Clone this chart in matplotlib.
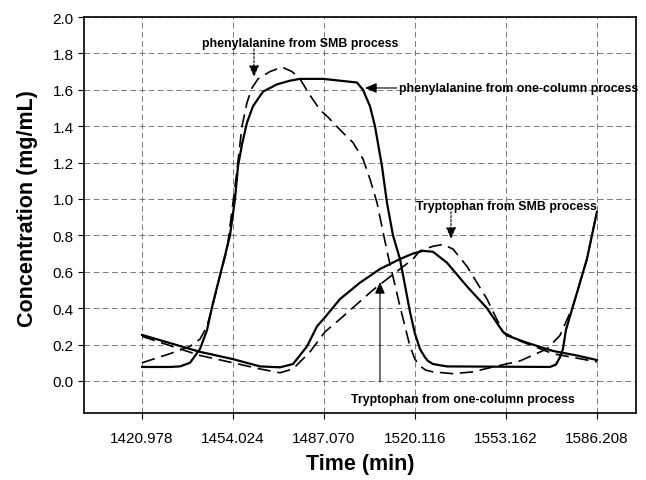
import matplotlib
matplotlib.use("Agg")
import matplotlib.pyplot as plt

plt.rcParams['font.family'] = ['Liberation Sans', 'DejaVu Sans']

# ---- data ----
x_ticks = [1420.978, 1454.024, 1487.070, 1520.116, 1553.162, 1586.208]
x_tick_labels = ["1420.978", "1454.024", "1487.070", "1520.116", "1553.162", "1586.208"]
y_ticks = [0.0, 0.2, 0.4, 0.6, 0.8, 1.0, 1.2, 1.4, 1.6, 1.8, 2.0]

phe_one_x = [1420.98, 1431.15, 1434.78, 1438.41, 1442.04, 1444.58, 1446.76, 1449.30, 1451.12,
             1452.93, 1454.75, 1455.84, 1457.29, 1459.11, 1461.29, 1464.92, 1470.00, 1474.72,
             1478.35, 1486.71, 1499.05, 1501.23, 1503.77, 1505.59, 1508.13, 1509.94, 1512.13,
             1514.67, 1518.30, 1520.11, 1521.93, 1523.75, 1524.84, 1526.65, 1531.74,
             1569.14, 1571.32, 1572.77, 1573.86, 1574.95, 1577.49, 1582.58, 1586.21]
phe_one_y = [0.077, 0.077, 0.08, 0.10, 0.176, 0.28, 0.43, 0.58, 0.69,
             0.80, 1.00, 1.18, 1.30, 1.42, 1.51, 1.59, 1.63, 1.65,
             1.66, 1.66, 1.64, 1.60, 1.51, 1.40, 1.18, 0.98, 0.80,
             0.67, 0.38, 0.26, 0.176, 0.13, 0.11, 0.093, 0.08,
             0.077, 0.09, 0.13, 0.176, 0.28, 0.41, 0.67, 0.93]

phe_smb_x = [1420.98, 1431.15, 1438.41, 1442.04, 1444.58, 1446.76, 1449.30, 1451.84, 1454.02,
             1455.48, 1457.29, 1459.11, 1460.92, 1463.10, 1467.46, 1471.82, 1475.45, 1478.35,
             1481.99, 1485.62, 1488.52, 1492.88, 1497.60, 1501.23, 1503.77, 1506.32, 1508.49,
             1510.31, 1514.67, 1518.30, 1520.11, 1521.93, 1524.0, 1526.65, 1533.92, 1541.18,
             1548.44, 1558.25, 1568.05, 1572.77, 1577.49, 1582.58, 1586.21]
phe_smb_y = [0.10, 0.15, 0.19, 0.23, 0.30, 0.42, 0.58, 0.72, 0.98,
             1.16, 1.40, 1.53, 1.61, 1.66, 1.70, 1.725, 1.70, 1.66,
             1.57, 1.49, 1.45, 1.38, 1.31, 1.22, 1.11, 0.98, 0.82,
             0.69, 0.41, 0.19, 0.12, 0.082, 0.06, 0.05, 0.04, 0.05,
             0.077, 0.11, 0.176, 0.25, 0.41, 0.67, 0.93]

trp_one_x = [1420.98, 1442.04, 1454.02, 1463.83, 1471.09, 1475.81, 1480.90, 1484.53, 1487.43,
             1492.88, 1500.14, 1507.40, 1514.67, 1519.39, 1523.02, 1526.65, 1531.74, 1539.00,
             1546.27, 1552.07, 1553.52, 1560.79, 1570.23, 1578.94, 1586.21]
trp_one_y = [0.253, 0.16, 0.12, 0.08, 0.075, 0.093, 0.19, 0.30, 0.35,
             0.45, 0.54, 0.615, 0.67, 0.70, 0.715, 0.71, 0.65, 0.52,
             0.40, 0.27, 0.25, 0.21, 0.165, 0.14, 0.115]

trp_smb_x = [1420.98, 1442.04, 1454.02, 1463.83, 1471.09, 1475.81, 1481.99, 1487.43, 1492.88,
             1504.86, 1514.67, 1519.39, 1521.93, 1526.65, 1530.28, 1533.92, 1539.00, 1546.27,
             1552.07, 1558.25, 1570.23, 1586.21]
trp_smb_y = [0.245, 0.14, 0.10, 0.066, 0.045, 0.066, 0.16, 0.27, 0.34,
             0.50, 0.615, 0.67, 0.715, 0.74, 0.75, 0.725, 0.63, 0.45,
             0.27, 0.22, 0.15, 0.105]

# ---- figure ----
fig = plt.figure(figsize=(6.46, 4.81), dpi=100)
ax = fig.add_axes([84/646, 1-414/481, (636-84)/646, (414-18)/481])

ax.set_xlim(1399.9, 1600.4)
ax.set_ylim(-0.176, 2.0)

ax.plot(phe_one_x, phe_one_y, color='black', lw=1.6, zorder=3)
ax.plot(phe_smb_x, phe_smb_y, color='black', lw=1.2, dashes=(8, 4), zorder=3)
ax.plot(trp_one_x, trp_one_y, color='black', lw=1.6, zorder=3)
ax.plot(trp_smb_x, trp_smb_y, color='black', lw=1.2, dashes=(8, 4), zorder=3)

ax.set_xticks(x_ticks)
ax.set_xticklabels(x_tick_labels)
ax.set_yticks(y_ticks)
ax.set_yticklabels([f"{v:.1f}" for v in y_ticks])
ax.tick_params(direction='out', length=4, width=0.8, labelsize=11, colors='black')
ax.tick_params(axis='x', pad=9)

ax.grid(True, color='0.4', lw=0.6, linestyle=(0, (7, 4)))
for s in ax.spines.values():
    s.set_linewidth(1.2)
    s.set_color('black')

ax.set_xlabel("Time (min)", fontsize=15.5, fontweight='bold')
ax.xaxis.set_label_coords(0.5, -0.1)
ax.set_ylabel("Concentration (mg/mL)", fontsize=15.5, fontweight='bold')
ax.yaxis.set_label_coords(-0.083, 0.518)

fs = 8.9
# annotations
ax.text(1478.35, 1.857, "phenylalanine from SMB process", fontsize=fs, fontweight='bold',
        ha='center', va='center')
ax.annotate("", xy=(1461.65, 1.67), xytext=(1461.65, 1.825),
            arrowprops=dict(arrowstyle='-|>,head_length=0.7,head_width=0.3', color='black',
                            lw=0.8, linestyle=(0, (2, 1.5)), shrinkA=0, shrinkB=0))

ax.text(1514.3, 1.61, "phenylalanine from one-column process", fontsize=fs, fontweight='bold',
        ha='left', va='center')
ax.annotate("", xy=(1501.96, 1.61), xytext=(1513.5, 1.61),
            arrowprops=dict(arrowstyle='-|>,head_length=0.7,head_width=0.3', color='black',
                            lw=0.8, shrinkA=0, shrinkB=0))

ax.text(1553.5, 0.96, "Tryptophan from SMB process", fontsize=fs, fontweight='bold',
        ha='center', va='center')
ax.annotate("", xy=(1533.2, 0.78), xytext=(1533.2, 0.93),
            arrowprops=dict(arrowstyle='-|>,head_length=0.7,head_width=0.3', color='black',
                            lw=0.8, linestyle=(0, (2, 1.5)), shrinkA=0, shrinkB=0))

ax.text(1537.5, -0.099, "Tryptophan from one-column process", fontsize=fs, fontweight='bold',
        ha='center', va='center')
ax.annotate("", xy=(1507.4, 0.544), xytext=(1507.4, -0.005),
            arrowprops=dict(arrowstyle='-|>,head_length=0.7,head_width=0.3', color='black',
                            lw=0.8, shrinkA=0, shrinkB=0))

fig.savefig("out.png", dpi=100)
